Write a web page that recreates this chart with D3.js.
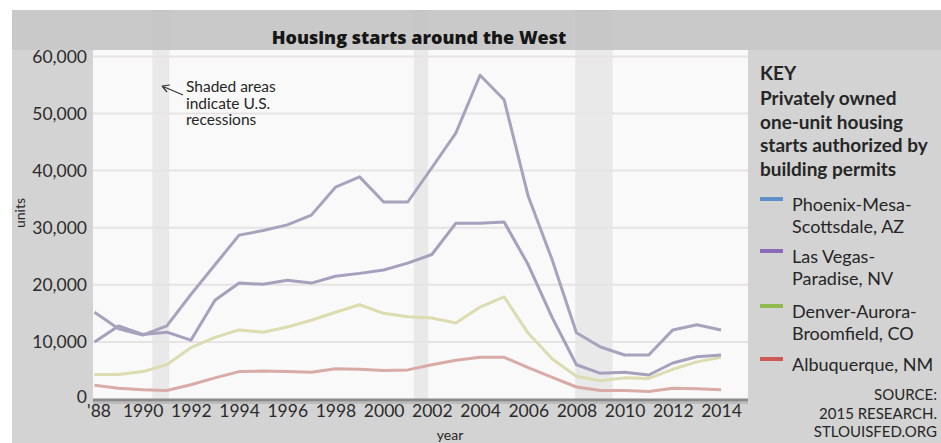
<!DOCTYPE html>
<html>
<head>
<meta charset="utf-8">
<script src="https://cdn.jsdelivr.net/npm/d3@7"></script>
<style>
body{margin:0;background:#fff;}
svg text{font-family:Lato,"Open Sans",sans-serif;fill:#262626;}
</style>
</head>
<body>
<svg id="chart" width="941" height="443"></svg>
<script>
// values
var years = [1988,1989,1990,1991,1992,1993,1994,1995,1996,1997,1998,1999,2000,2001,2002,2003,2004,2005,2006,2007,2008,2009,2010,2011,2012,2013,2014];
var phoenix = [15200,12300,11200,12800,18300,23500,28700,29500,30500,32200,37100,38900,34500,34500,40500,46600,56700,52400,35500,24300,11600,9100,7700,7700,12100,13000,12100];
var lasVegas = [10000,12800,11300,11700,10300,17300,20300,20100,20800,20300,21500,22000,22600,23800,25300,30800,30800,31000,23500,14200,6000,4500,4700,4200,6300,7400,7700];
var denver = [4300,4300,4800,6000,9000,10800,12100,11700,12600,13800,15200,16500,15000,14400,14200,13300,16100,17900,11500,7000,4000,3200,3700,3600,5200,6500,7300];
var albuquerque = [2400,1900,1600,1500,2500,3700,4800,4900,4800,4700,5300,5200,5000,5100,6000,6800,7300,7300,5500,3800,2100,1500,1500,1300,1900,1800,1600];

var legendLabels = [["Phoenix-Mesa-","Scottsdale, AZ"],["Las Vegas-","Paradise, NV"],["Denver-Aurora-","Broomfield, CO"],["Albuquerque, NM"]];
var keyColors = ["#5f8fc9","#8a6bb8","#8fba4d","#cd5a52"];
var lineColors = ["#a8a3bd","#a6a0bd","#dcdcb0","#d8aba7"];

var yTicks = [0,10000,20000,30000,40000,50000,60000];
var xTicks = [1988,1990,1992,1994,1996,1998,2000,2002,2004,2006,2008,2010,2012,2014];
var recessionStart = [1990.4,2001.25,2007.95];
var recessionEnd = [1991.1,2001.85,2009.5];

var series = [phoenix, lasVegas, denver, albuquerque];

var svg = d3.select("#chart");

var x = d3.scaleLinear().domain([1988,2014]).range([94.5,721]);
var y = d3.scaleLinear().domain([0,60000]).range([399,56.4]);

// backgrounds
svg.append("rect").attr("x",12).attr("y",10).attr("width",929).attr("height",433).style("fill","#d3d3d3");
svg.append("rect").attr("x",12).attr("y",10).attr("width",929).attr("height",40).style("fill","#c9c9c9");
svg.append("rect").attr("x",93).attr("y",50).attr("width",655).attr("height",349).style("fill","#f9f9f9");

// recession bands
svg.selectAll(".band")
   .data(recessionStart)
   .enter()
   .append("rect")
   .attr("class","band")
   .attr("x",function(d){return x(d);})
   .attr("y",10)
   .attr("width",function(d,i){return x(recessionEnd[i])-x(d);})
   .attr("height",389)
   .style("fill","#c4c4c4")
   .style("opacity",0.3);

// grid
svg.selectAll(".grid")
   .data(yTicks.slice(1))
   .enter()
   .append("line")
   .attr("x1",93).attr("x2",748)
   .attr("y1",function(d){return y(d);})
   .attr("y2",function(d){return y(d);})
   .style("stroke","#e7e3e3")
   .style("stroke-width",2);

// lines, Albuquerque first so Phoenix is on top
var line = d3.line()
   .x(function(d,i){return x(years[i]);})
   .y(function(d){return y(d);});

svg.selectAll(".series")
   .data(series.slice().reverse())
   .enter()
   .append("path")
   .attr("d",line)
   .style("fill","none")
   .style("stroke",function(d,i){return lineColors[3-i];})
   .style("stroke-width",3)
   .style("stroke-linejoin","round");

// baseline
svg.append("line").attr("x1",93).attr("x2",748).attr("y1",403).attr("y2",403).style("stroke","#bcbcbc").style("stroke-width",2);
svg.append("line").attr("x1",93).attr("x2",748).attr("y1",400).attr("y2",400).style("stroke","#8a8a8a").style("stroke-width",3);

// axes
var yAxis = svg.append("g")
   .attr("transform","translate(93,0)")
   .call(d3.axisLeft(y).tickValues(yTicks).tickSize(0).tickPadding(6).tickFormat(d3.format(",")));
var xAxis = svg.append("g")
   .attr("transform","translate(0,399)")
   .call(d3.axisBottom(x).tickValues(xTicks).tickSize(0).tickPadding(6)
      .tickFormat(function(d){return d==1988 ? "'88" : String(d);}));
[yAxis,xAxis].forEach(function(a){
  a.select(".domain").remove();
  a.selectAll("text").style("font-size","17.5px").style("fill","#2b2b2b");
  a.attr("font-family",null);
});
// nudge the '88 so it sits clear of the 0
xAxis.selectAll("text").filter(function(d){return d==1988;}).attr("dx",4);
yAxis.selectAll("text").filter(function(d){return d==0;}).attr("dy","0.2em");

svg.append("text").attr("x",450).attr("y",440).attr("text-anchor","middle").style("font-size","14px").text("year");
svg.append("text").attr("transform","translate(25,213) rotate(-90)").attr("text-anchor","middle").style("font-size","14px").text("units");

// title
svg.append("text").attr("x",419).attr("y",44).attr("text-anchor","middle")
   .style("font-family","'Open Sans',Lato,sans-serif")
   .style("font-size","18px").style("font-weight","800").style("fill","#161616")
   .text("Housing starts around the West");

// recession note
svg.append("path").attr("d","M183,95L162,86M162,86L170,85M162,86L167,92")
   .style("fill","none").style("stroke","#333").style("stroke-width",1.2);
var note = ["Shaded areas","indicate U.S.","recessions"];
svg.selectAll(".note")
   .data(note)
   .enter()
   .append("text")
   .attr("x",186)
   .attr("y",function(d,i){return 92+i*16.5;})
   .style("font-size","15.5px")
   .text(function(d){return d;});

// key
svg.append("text").attr("x",760).attr("y",80).style("font-size","19px").style("font-weight","bold").text("KEY");
var keyText = ["Privately owned","one-unit housing","starts authorized by","building permits"];
svg.selectAll(".keytext")
   .data(keyText)
   .enter()
   .append("text")
   .attr("x",760)
   .attr("y",function(d,i){return 105+i*23.5;})
   .style("font-size","19px")
   .style("font-weight","bold")
   .text(function(d){return d;});

var swatchY = [199,251,306,359];
var item = svg.selectAll(".item")
   .data(legendLabels)
   .enter()
   .append("g")
   .attr("transform",function(d,i){return "translate(760,"+swatchY[i]+")";});
item.append("rect").attr("x",0).attr("y",-2).attr("width",23).attr("height",4)
   .style("fill",function(d,i){return keyColors[i];});
item.selectAll("text")
   .data(function(d){return d;})
   .enter()
   .append("text")
   .attr("x",32)
   .attr("y",function(d,i){return 12+i*22;})
   .style("font-size","18px")
   .text(function(d){return d;});

var source = ["SOURCE:","2015 RESEARCH.","STLOUISFED.ORG"];
svg.selectAll(".source")
   .data(source)
   .enter()
   .append("text")
   .attr("x",937)
   .attr("y",function(d,i){return 400+i*18.5;})
   .attr("text-anchor","end")
   .style("font-size","15px")
   .text(function(d){return d;});
</script>
</body>
</html>
